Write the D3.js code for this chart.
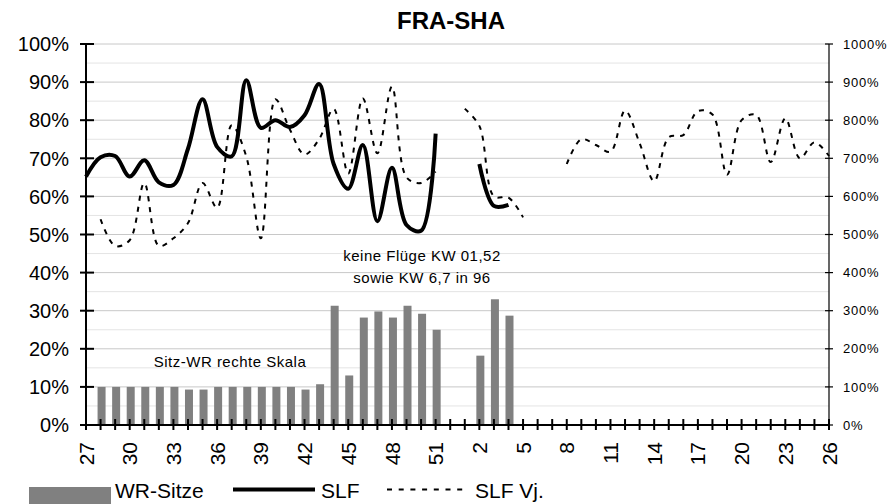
<!DOCTYPE html>
<html><head><meta charset="utf-8">
<script src="https://cdn.jsdelivr.net/npm/d3@7"></script>
<style>
body{margin:0;background:#fff}
svg{display:block}
text{font-family:"Liberation Sans",Arial,Helvetica,sans-serif;fill:#000}
</style>
</head><body>
<svg id="chart" width="891" height="504"></svg>
<script>
// ---- data ----
const weeks = [27,28,29,30,31,32,33,34,35,36,37,38,39,40,41,42,43,44,45,46,47,48,49,50,51,52,
               1,2,3,4,5,6,7,8,9,10,11,12,13,14,15,16,17,18,19,20,21,22,23,24,25,26];
const tickLabels = [27,30,33,36,39,42,45,48,51,2,5,8,11,14,17,20,23,26];
const leftTicks = [0,10,20,30,40,50,60,70,80,90,100];
const leftMinor = [5,15,25,35,45,55,65,75,85,95];
const rightTicks = [0,100,200,300,400,500,600,700,800,900,1000];
// WR-Sitze (right scale, %)
const wrSitze = [null,100,100,100,100,100,100,93,93,100,100,100,100,100,100,93,107,313,130,282,298,282,313,292,250,null,
                 null,182,330,287,null,null,null,null,null,null,null,null,null,null,null,null,null,null,null,null,null,null,null,null,null,null];
// SLF (left scale, %)
const slf = [65.2,70.3,70.6,65.2,69.5,63.7,63,72.5,85.5,73,70.5,90.5,78,80,78.2,81.3,89.5,68.5,62,73.5,53.5,67.5,52.5,51,76.5,null,
             null,68.5,57.5,57.8,null,null,null,null,null,null,null,null,null,null,null,null,null,null,null,null,null,null,null,null,null,null];
// SLF Vj. (left scale, %)
const slfVj = [null,54,47,48.5,63.5,47,49,53,63.5,57,78.7,70.5,49,85.5,77.5,71,75,83,66,85.7,71.3,88.8,65,63.5,66.5,null,
               83,78.5,60,59.7,54.5,null,null,68.5,75,73.5,71.7,82.5,74,64,75.5,76.1,82.4,81.5,65.7,80,81.4,69,80.5,70,74.2,70.6];

// ---- layout ----
const svg = d3.select("#chart");
const L = 86, R = 829, T = 44, B = 425;
const x = d3.scalePoint().domain(weeks).range([L, R]);
const yL = d3.scaleLinear().domain([0, 100]).range([B, T]);
const yR = d3.scaleLinear().domain([0, 1000]).range([B, T]);

// gridlines
svg.append("g").selectAll("line").data(leftMinor).join("line")
  .attr("x1", L).attr("x2", R).attr("y1", d => yL(d)).attr("y2", d => yL(d))
  .attr("stroke", "#e4e4e4").attr("stroke-width", 1);
svg.append("g").selectAll("line").data(leftTicks.slice(1)).join("line")
  .attr("x1", L).attr("x2", R).attr("y1", d => yL(d)).attr("y2", d => yL(d))
  .attr("stroke", "#c8c8c8").attr("stroke-width", 1);

// bars
const barW = 8;
const data = weeks.map((w, i) => ({w, wr: wrSitze[i], s: slf[i], v: slfVj[i]}));
svg.append("g").selectAll("rect").data(data.filter(d => d.wr != null)).join("rect")
  .attr("x", d => x(d.w) - barW / 2 + 1).attr("width", barW)
  .attr("y", d => yR(d.wr)).attr("height", d => B - yR(d.wr))
  .attr("fill", "#808080");

// lines
const curve = d3.curveCatmullRom.alpha(0.5);
const lineS = d3.line().defined(d => d.s != null).x(d => x(d.w)).y(d => yL(d.s)).curve(curve);
const lineV = d3.line().defined(d => d.v != null).x(d => x(d.w)).y(d => yL(d.v)).curve(curve);
svg.append("path").attr("d", lineV(data)).attr("fill", "none")
  .attr("stroke", "#000").attr("stroke-width", 2).attr("stroke-dasharray", "5,6");
svg.append("path").attr("d", lineS(data)).attr("fill", "none")
  .attr("stroke", "#000").attr("stroke-width", 4).attr("stroke-linejoin", "round");

// axes lines
const ax = svg.append("g").attr("stroke", "#000");
ax.append("line").attr("x1", L).attr("x2", L).attr("y1", T).attr("y2", B).attr("stroke-width", 2);
ax.append("line").attr("x1", R).attr("x2", R).attr("y1", T).attr("y2", B).attr("stroke-width", 1.2);
ax.append("line").attr("x1", L).attr("x2", R).attr("y1", B).attr("y2", B).attr("stroke-width", 2);
// left ticks
ax.append("g").selectAll("line").data(leftTicks).join("line")
  .attr("x1", L - 6).attr("x2", L + 8).attr("y1", d => yL(d)).attr("y2", d => yL(d)).attr("stroke-width", 2);
// right ticks
ax.append("g").selectAll("line").data(rightTicks).join("line")
  .attr("x1", R - 4).attr("x2", R + 4).attr("y1", d => yR(d)).attr("y2", d => yR(d)).attr("stroke-width", 1.2);
// x ticks
ax.append("g").selectAll("line").data(weeks).join("line")
  .attr("x1", d => x(d)).attr("x2", d => x(d)).attr("y1", B - 6).attr("y2", B + 5).attr("stroke-width", 2);

// labels
svg.append("g").selectAll("text").data(leftTicks).join("text")
  .attr("x", 69).attr("y", d => yL(d)).attr("dy", "0.36em")
  .attr("text-anchor", "end").attr("font-size", 20).text(d => d + "%");
svg.append("g").selectAll("text").data(rightTicks).join("text")
  .attr("x", 843).attr("y", d => yR(d)).attr("dy", "0.36em")
  .attr("font-size", 13).attr("letter-spacing", 0.8).text(d => d + "%");
svg.append("g").selectAll("text").data(tickLabels).join("text")
  .attr("transform", d => `translate(${x(d)},442) rotate(-90)`)
  .attr("dy", "0.36em").attr("text-anchor", "end").attr("font-size", 21).text(d => d);

// title
svg.append("text").attr("x", 451).attr("y", 29).attr("text-anchor", "middle")
  .attr("font-size", 24).attr("font-weight", "bold").text("FRA-SHA");

// annotations
svg.append("text").attr("x", 230).attr("y", 366.5).attr("text-anchor", "middle")
  .attr("font-size", 15).attr("letter-spacing", 0.5).text("Sitz-WR rechte Skala");
svg.append("text").attr("x", 422).attr("y", 261).attr("text-anchor", "middle")
  .attr("font-size", 15).attr("letter-spacing", 0.5).text("keine Flüge KW 01,52");
svg.append("text").attr("x", 422).attr("y", 283).attr("text-anchor", "middle")
  .attr("font-size", 15).attr("letter-spacing", 0.5).text("sowie KW 6,7 in 96");

// legend
const lg = svg.append("g");
lg.append("rect").attr("x", 29).attr("y", 487).attr("width", 82).attr("height", 20).attr("fill", "#808080");
lg.append("text").attr("x", 115).attr("y", 498).attr("font-size", 21).text("WR-Sitze");
lg.append("line").attr("x1", 233).attr("x2", 315).attr("y1", 489.5).attr("y2", 489.5)
  .attr("stroke", "#000").attr("stroke-width", 4);
lg.append("text").attr("x", 321).attr("y", 498).attr("font-size", 21).text("SLF");
lg.append("line").attr("x1", 387).attr("x2", 467).attr("y1", 489.5).attr("y2", 489.5)
  .attr("stroke", "#000").attr("stroke-width", 2).attr("stroke-dasharray", "5,6.7");
lg.append("text").attr("x", 475).attr("y", 498).attr("font-size", 21).text("SLF Vj.");
</script>
</body></html>
